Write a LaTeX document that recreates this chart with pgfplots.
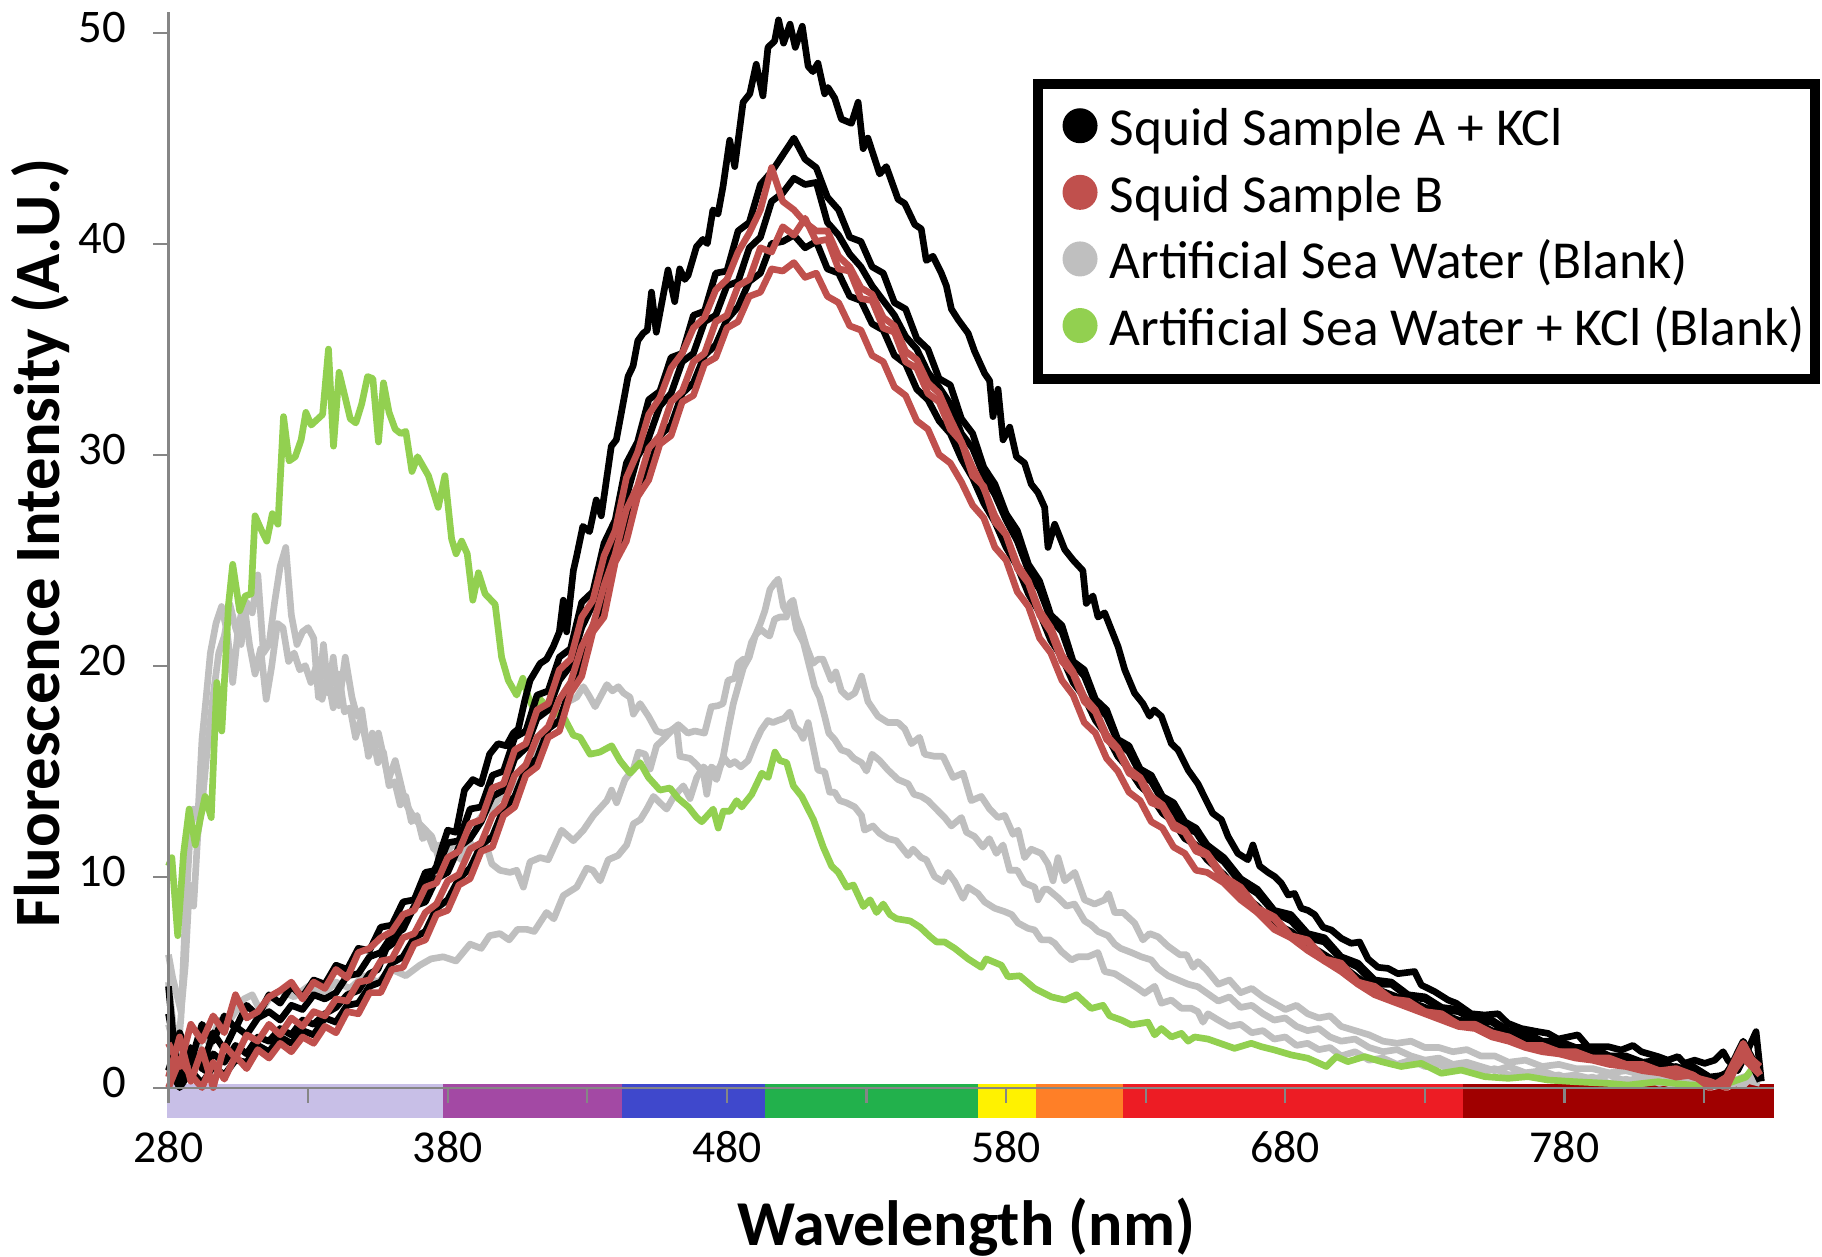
\documentclass[border=0pt]{standalone}
\usepackage{fontspec}
\setmainfont{Carlito}
\usepackage{pgfplots}
\usepackage{pgfplotstable}
\pgfplotsset{compat=1.18}

\definecolor{sqred}{RGB}{192,80,77}
\definecolor{swgray}{RGB}{191,191,191}
\definecolor{swgreen}{RGB}{146,208,80}
\definecolor{axisgray}{RGB}{134,134,134}
% spectrum strip under the x axis
\definecolor{cLav}{RGB}{200,191,231}
\definecolor{cPur}{RGB}{163,73,164}
\definecolor{cBlu}{RGB}{63,72,204}
\definecolor{cGrn}{RGB}{34,177,76}
\definecolor{cYel}{RGB}{255,242,0}
\definecolor{cOra}{RGB}{255,127,39}
\definecolor{cRed}{RGB}{237,28,36}
\definecolor{cDrd}{RGB}{160,0,0}

% squid samples (other runs)
\pgfplotstableread{
nm K2 K3 K4 R1 R2 R3
280 0.8 3.5 1.0 2.1 0.5 0.0
284 2.6 0.6 0.0 1.0 2.4 1.3
288 1.2 1.9 0.8 3.0 0.3 0.6
292 3.0 0.9 0.2 2.2 1.8 0.0
296 2.2 2.6 1.0 3.4 0.0 1.2
300 3.4 1.8 0.6 2.6 2.0 0.4
304 2.8 2.9 1.3 4.4 1.4 1.5
308 3.9 2.5 1.2 3.3 2.5 0.9
312 3.4 3.3 2.0 3.6 2.2 1.8
316 4.4 3.6 1.7 4.3 3.0 1.4
320 4.0 3.2 2.4 4.6 2.5 2.1
324 4.8 3.9 2.1 5.0 3.3 1.7
328 4.3 3.7 2.7 4.2 2.9 2.4
332 5.1 4.4 2.5 5.0 3.6 2.1
336 4.9 4.2 3.3 4.7 3.4 2.9
340 5.8 4.5 3.1 5.6 4.2 2.6
344 5.6 5.3 3.9 5.2 4.1 3.6
348 6.6 5.4 4.0 6.4 5.0 3.5
352 6.5 6.2 4.8 6.6 5.1 4.5
356 7.6 6.4 5.0 7.1 6.0 4.5
360 7.7 7.2 5.9 7.4 6.1 5.6
364 8.8 7.5 6.2 8.2 7.1 5.7
368 8.9 8.6 7.1 8.4 7.3 6.8
372 10.2 8.8 7.4 9.5 8.3 7.0
376 10.3 9.9 8.5 9.7 8.7 8.2
380 11.6 10.2 8.9 10.9 9.8 8.4
384 11.7 11.4 9.9 11.2 10.1 9.6
388 13.2 11.8 10.4 12.5 11.3 9.9
392 13.3 12.6 11.5 12.7 11.6 11.2
396 14.8 13.8 11.9 14.2 12.9 11.4
400 15.0 14.1 13.2 14.4 13.4 12.9
404 16.6 15.6 13.8 16.0 14.8 13.3
408 16.9 16.1 15.1 16.3 15.3 14.8
412 18.6 17.5 15.6 17.9 16.6 15.2
416 18.8 17.9 17.0 18.2 17.1 16.6
420 20.4 19.3 17.4 19.8 18.4 16.9
424 20.8 20.0 19.0 20.3 19.2 18.7
428 23.0 21.8 20.0 22.3 20.9 19.5
432 23.5 22.9 21.9 23.1 21.9 21.6
436 25.8 24.4 22.8 25.2 23.8 22.3
440 26.9 26.4 25.2 26.4 25.3 24.9
444 29.6 28.0 26.4 28.9 27.4 25.9
448 30.6 29.9 28.4 30.1 28.5 28.0
452 32.6 30.8 29.3 31.9 30.3 28.8
456 33.0 32.3 30.9 32.7 30.9 30.5
460 34.6 32.9 31.4 34.1 32.5 30.9
464 34.8 34.4 32.9 34.8 33.0 32.5
468 36.6 34.8 33.4 36.0 34.4 32.8
472 36.8 36.3 34.7 36.5 34.8 34.3
476 38.6 36.6 35.2 37.8 36.3 34.6
480 38.7 38.0 36.4 38.3 36.6 36.0
484 40.6 38.2 37.0 39.6 38.0 36.3
488 41.0 39.8 38.2 40.5 38.3 37.5
492 42.8 40.3 38.6 41.6 39.8 37.7
496 43.4 42.0 40.0 43.6 39.6 38.8
500 44.2 42.4 40.1 42.0 40.8 38.7
504 45.0 43.1 40.4 41.6 40.4 39.1
508 44.0 42.8 39.8 41.0 41.2 38.4
512 43.6 42.9 40.1 40.6 40.1 38.6
516 42.2 41.0 38.8 40.6 40.2 37.5
520 41.6 40.4 38.6 39.4 38.8 37.2
524 40.3 39.5 37.5 38.9 38.7 36.1
528 40.1 38.9 37.3 37.9 37.4 35.9
532 38.9 38.0 36.2 37.6 37.3 34.7
536 38.6 37.3 35.9 36.5 36.0 34.4
540 37.2 36.6 34.7 36.1 35.8 33.2
544 36.9 35.6 34.3 34.9 34.4 32.8
548 35.5 35.0 33.1 34.5 34.1 31.6
552 35.0 33.9 32.6 33.4 32.9 31.2
556 33.6 33.2 31.6 32.9 32.5 30.0
560 33.3 32.4 31.0 31.7 31.2 29.6
564 31.7 31.0 29.8 30.6 30.6 28.7
568 31.0 30.3 28.9 29.4 29.0 27.6
572 29.4 29.0 27.7 28.4 28.5 27.0
576 28.6 28.1 26.8 27.1 26.8 25.6
580 27.2 26.9 25.6 26.2 26.2 25.0
584 26.4 25.9 24.7 24.8 24.6 23.5
588 24.8 24.5 23.4 24.0 23.9 22.8
592 24.0 23.6 22.5 22.6 22.4 21.3
596 22.4 22.2 21.2 21.8 21.6 20.6
600 21.9 21.6 20.4 20.5 20.2 19.3
604 20.2 20.1 19.2 19.7 19.6 18.6
608 19.8 19.5 18.5 18.5 18.3 17.3
612 18.4 18.2 17.4 17.9 17.8 16.8
616 17.9 17.6 16.7 16.7 16.5 15.6
620 16.5 16.4 15.7 16.1 16.0 15.0
624 16.2 15.9 15.1 15.1 14.9 14.0
628 15.1 14.9 14.3 14.7 14.6 13.6
632 14.8 14.5 13.8 13.8 13.5 12.6
636 13.8 13.6 13.0 13.4 13.3 12.3
640 13.5 13.1 12.6 12.5 12.3 11.4
644 12.6 12.3 11.8 12.2 12.1 11.1
648 12.3 12.1 11.5 11.4 11.2 10.3
652 11.5 11.3 10.8 11.1 11.0 10.2
658 10.9 10.7 10.1 10.0 9.8 9.7
664 9.9 9.7 9.2 9.5 9.3 8.9
670 9.4 9.2 8.6 8.5 8.3 8.3
676 8.4 8.3 7.8 8.1 8.0 7.5
682 8.2 7.9 7.4 7.2 7.1 7.1
688 7.3 7.1 6.8 7.0 6.9 6.5
694 7.1 6.9 6.3 6.1 6.0 6.0
700 6.2 6.1 5.8 5.9 5.8 5.5
706 5.9 5.7 5.2 5.0 5.0 4.9
712 5.1 4.9 4.7 4.8 4.7 4.4
718 5.0 4.9 4.4 4.2 4.2 4.1
724 4.4 4.3 4.1 4.1 4.0 3.8
730 4.3 4.2 3.8 3.6 3.6 3.5
736 3.8 3.7 3.5 3.5 3.4 3.2
742 3.7 3.6 3.2 3.0 3.0 2.9
748 3.3 3.2 3.1 3.0 2.9 2.8
754 3.2 3.1 2.7 2.6 2.5 2.4
760 2.7 2.6 2.5 2.4 2.4 2.2
766 2.6 2.5 2.2 2.0 2.0 1.9
772 2.2 2.1 2.0 2.0 1.9 1.7
778 2.2 2.1 1.9 1.7 1.7 1.6
784 1.9 1.8 1.7 1.7 1.6 1.4
790 1.9 1.8 1.5 1.4 1.4 1.3
796 1.5 1.5 1.4 1.4 1.3 1.1
802 1.5 1.4 1.2 1.1 1.1 1.0
808 1.2 1.1 1.2 1.1 1.0 0.8
814 1.3 1.2 0.9 0.8 0.8 0.7
820 0.9 0.9 1.0 0.9 0.8 0.5
826 1.0 0.9 0.7 0.6 0.5 0.6
832 0.5 0.3 0.2 0.0 0.3 0.1
838 0.6 0.7 0.4 0.5 0.0 0.3
844 2.2 1.8 2.0 2.1 1.7 1.4
850 0.7 0.5 0.3 0.6 1.0 0.6
}\bundle

\begin{document}
\begin{tikzpicture}
\begin{axis}[
    name=ax,
    scale only axis,
    width=16.054cm, height=10.761cm,
    xmin=280, xmax=855, ymin=0, ymax=51,
    clip=false,
    axis on top,
    axis lines*=left,
    axis line style={draw=axisgray, line width=0.6pt},
    tick style={draw=axisgray, line width=0.6pt},
    tick align=outside,
    major tick length=0.15cm,
    xtick={280,330,...,830},
    xticklabels={280,,380,,480,,580,,680,,780,},
    ytick={0,10,...,50},
    /pgf/number format/assume math mode=true,
    xticklabel style={font=\fontsize{13}{15}\selectfont, yshift=-0.16cm},
    yticklabel style={font=\fontsize{13.3}{15}\selectfont, xshift=-0.15cm, yshift=0.05cm},
    xlabel={Wavelength (nm)},
    ylabel={Fluorescence Intensity (A.U.)},
    xlabel style={font=\bfseries\fontsize{18.2}{21}\selectfont,
        at={(axis description cs:0.497,-0.14627)}, anchor=base},
    ylabel style={font=\bfseries\fontsize{18.4}{21}\selectfont,
        at={(axis description cs:-0.0679,0.506)}, anchor=base},
    no markers,
    every axis plot/.append style={line width=1.9pt, line join=round, forget plot},
    legend cell align=left,
    legend image code/.code={
        \path[draw=none, fill=none] (0,0) rectangle (0.5cm,0.01cm);
        \fill[draw=none] (0.324cm,0.06cm) circle[radius=0.175cm];
    },
    legend style={
        at={(axis cs:589.5,47.79)}, anchor=north west,
        draw=black, line width=2.85pt, fill=white,
        inner xsep=0.1cm, inner ysep=0.19cm,
        row sep=0.096cm,
        font=\fontsize{15.2}{18}\selectfont,
        nodes={inner sep=0pt, text height=0.425cm, text depth=0.145cm},
        /tikz/every odd column/.append style={column sep=0.12cm},
    },
]

% spectrum strip
\fill[cLav] (axis cs:279.5,0.15) rectangle (axis cs:378.3,-1.45);
\fill[cPur] (axis cs:378.3,0.15) rectangle (axis cs:442.3,-1.45);
\fill[cBlu] (axis cs:442.3,0.15) rectangle (axis cs:493.7,-1.45);
\fill[cGrn] (axis cs:493.7,0.15) rectangle (axis cs:569.8,-1.45);
\fill[cYel] (axis cs:569.8,0.15) rectangle (axis cs:590.7,-1.45);
\fill[cOra] (axis cs:590.7,0.15) rectangle (axis cs:622.0,-1.45);
\fill[cRed] (axis cs:622.0,0.15) rectangle (axis cs:743.8,-1.45);
\fill[cDrd] (axis cs:743.8,0.15) rectangle (axis cs:854.9,-1.45);

% artificial sea water blanks
\addplot[color=swgray] coordinates {
(280,6.3)(281.5,5.2)(283,4.4)(284.5,3.6)(286,5.8)(287.5,9.6)(289,8.6)(290.5,12.0)(292,13.4)(294,16.2)
(296,18.6)(298,20.6)(300,21.4)(302,22.9)(304,21.8)(306,21.0)(308,23.0)(310,22.5)(312,24.3)(314,20.6)
(316,21.0)(318,23.0)(320,24.7)(322,25.6)(324,22.4)(326,21.0)(328,21.6)(330,21.8)(332,21.3)(333.7,18.5)
(335.5,21.0)(337.3,18.7)(339,20.4)(341,18.1)(343.3,20.4)(345.7,18.5)(347.5,17.6)(349.2,17.9)(351.6,15.7)
(355.2,16.8)(358.8,14.6)(361.2,15.5)(364.8,13.5)(368.3,12.7)(370.7,12.4)(374.3,11.9)(376.7,10.9)(379,10.6)
(382,11.1)(385,10.8)(388,11.6)(391,11.2)(394,11.4)(395.8,10.6)(398.7,10.3)(402.3,10.2)(404.7,10.3)
(407.1,9.5)(409.5,10.7)(413.1,10.9)(416,10.8)(420.8,12.2)(425,11.7)(428.6,12.2)(432.2,12.9)(437,13.6)
(438.7,14.1)(440.5,13.5)(443.5,14.6)(446.5,15.1)(448.3,15.9)(450.7,15.8)(452.5,15.1)(454.8,16.2)
(457.2,16.5)(460.8,17.0)(462.6,17.2)(466,16.8)(468.5,16.9)(472,16.8)(474.4,18.05)(476.8,18.1)(478.6,18.2)
(480.4,19.3)(482.8,19.4)(484,20.1)(485.8,20.3)(487,20.2)(488.8,21.1)(490.5,21.5)(492.3,21.7)(494.1,21.5)
(495.3,21.4)(497.1,22.2)(498.9,22.3)(501.3,22.3)(502.5,22.95)(503.7,23.1)(504.9,22.3)(506.7,21.7)
(508.5,20.9)(510.8,20.1)(512.6,20.3)(514.4,20.3)(516.2,19.7)(517.4,19.3)(519,19.7)(521,18.8)(523.4,18.5)
(525.8,18.7)(528.2,19.5)(530.5,18.3)(534.1,17.6)(537.7,17.3)(541.3,17.3)(543.7,17.0)(546.1,16.3)(549,16.6)
(550.8,15.8)(554.4,15.7)(557.4,15.7)(561,14.7)(564.6,14.9)(567.5,13.6)(571.1,13.8)(574.1,13.2)(577.1,12.8)
(579.5,12.9)(582.5,12.0)(584.3,12.2)(586.6,10.9)(589,11.3)(592.6,11.1)(595,10.6)(596.8,9.8)(598.6,10.9)
(601,9.8)(604.6,10.2)(608.1,8.9)(611.7,8.7)(615.3,8.9)(616.7,9.2)(618.9,8.3)(621.9,8.3)(626,7.8)(629,7.0)
(631.4,7.3)(634.4,7.15)(638,6.7)(642.2,6.3)(644.6,6.3)(647,5.7)(648.7,5.97)(651.7,5.6)(656,4.9)(660,5.1)
(664,4.5)(668,4.7)(672,4.3)(676,4.0)(680,3.7)(684,3.9)(688,3.5)(692,3.3)(696,3.4)(700,2.9)(705,2.7)
(710,2.5)(715,2.2)(720,2.1)(725,2.2)(730,1.9)(735,1.9)(740,1.7)(745,1.8)(750,1.5)(755,1.5)(760,1.2)
(766,1.3)(772,1.0)(778,1.1)(784,0.9)(790,0.9)(796,0.7)(802,0.8)(808,0.6)(814,0.6)(820,0.5)(826,0.5)
(832,0.2)(838,0.4)(844,0.1)(850,0.9)
};
\addplot[color=swgray] coordinates {
(280,5.0)(281.5,3.2)(283,1.0)(284.5,3.4)(286,8.0)(287.5,11.5)(289,13.2)(290.5,12.8)(292,16.5)(293.5,18.5)
(295,20.6)(297,22.0)(299,22.8)(301,21.6)(303,19.2)(305,21.8)(307,23.0)(309,21.0)(311,19.6)(313,20.8)
(315,18.4)(317,20.0)(319,22.0)(321,21.8)(323,20.2)(325,20.6)(327,19.8)(329,20.0)(331,19.2)(333,20.0)
(335,18.4)(337,19.5)(339,18.0)(341,19.6)(343,17.8)(345,18.0)(347,16.6)(349,17.5)(351,16.2)(353,16.8)
(355,15.4)(357,15.9)(359,14.3)(361,14.5)(363,13.4)(365,13.8)(367,12.6)(369,12.9)(371,11.8)(373,12.0)
(375,11.3)(377,11.5)(379,11.0)(381,11.4)(384,11.7)(387,12.4)(390,12.5)(393,13.0)(396,13.3)(399,13.8)
(402,14.2)(405,14.3)(408,15.0)(411,15.8)(414,16.6)(417,17.2)(419,17.7)(421.4,17.9)(423.3,18.3)(426.2,18.5)
(428.6,19.0)(430.5,18.6)(432.8,18.05)(435,18.6)(437,19.1)(439,18.8)(441.1,19.0)(443,18.7)(445.3,18.5)
(446.5,17.7)(448.9,18.2)(451.9,17.6)(454.8,16.9)(457.2,16.8)(459.6,16.9)(462,17.1)(463.2,15.7)(466.8,15.6)
(469.2,15.3)(471.6,14.9)(472.8,13.9)(474.4,15.2)(476.5,15.0)(479.2,15.6)(481,15.3)(482.8,15.45)(485,15.2)
(487.6,15.5)(490,16.3)(492.3,16.95)(494.7,17.4)(496.5,17.3)(498.3,17.4)(500.5,17.5)(502.5,17.8)(504.3,17.1)
(506,16.9)(507.3,16.55)(509.1,17.3)(510.8,16.2)(512.6,15.05)(515,14.97)(516.8,14.0)(518.6,14.0)(520.4,13.6)
(522.8,13.5)(525.8,13.3)(528.2,12.9)(529.3,12.2)(532.3,12.4)(534.7,12.05)(537.7,11.8)(540.7,11.7)
(543.1,11.3)(544.9,11.0)(546.7,11.3)(549.6,10.9)(551.4,10.8)(554.4,10.0)(557.4,9.76)(559.2,10.2)
(561.6,9.76)(564.6,8.97)(566.4,9.5)(569.9,9.2)(572.3,8.8)(575.9,8.5)(579.5,8.34)(582,8.2)(584.3,7.8)
(587.8,7.55)(590.2,7.47)(592.6,7.0)(595.6,7.0)(597.4,6.84)(599.8,6.45)(603.4,6.05)(605.8,6.2)(609.3,6.2)
(612.9,6.4)(615.3,5.5)(618.9,5.4)(621.3,5.2)(623.7,5.0)(627.2,4.7)(629.6,4.47)(633.2,4.8)(635.6,4.0)
(639.2,4.15)(642.8,3.76)(646.3,3.76)(648.7,3.6)(650.5,3.1)(652.3,3.5)(656,3.2)(660,2.9)(664,3.0)(668,2.6)
(672,2.7)(676,2.3)(680,2.4)(684,2.0)(688,2.1)(692,1.8)(696,1.9)(700,1.5)(705,1.7)(710,1.3)(715,1.4)
(720,1.1)(725,1.3)(730,1.0)(735,1.1)(740,0.8)(745,1.0)(750,0.7)(755,0.9)(760,0.6)(766,0.7)(772,0.5)
(778,0.6)(784,0.3)(790,0.5)(796,0.2)(802,0.4)(808,0.2)(814,0.3)(820,0.1)(826,0.3)(832,0.0)(838,0.2)
(844,0.5)(850,0.7)
};
\addplot[color=swgray] coordinates {
(280,3.0)(283,1.5)(286,2.2)(289,1.0)(292,2.6)(295,2.0)(298,3.2)(301,3.0)(304,3.6)(307,4.2)(310,4.4)
(313,3.6)(316,4.2)(320,4.6)(325,4.3)(330,4.8)(335,4.4)(340,5.0)(345,4.7)(350,5.3)(355,5.0)(360,5.6)
(365,5.3)(370,5.8)(374,6.1)(378.4,6.2)(383,6.0)(388,6.8)(392,6.6)(395,7.2)(398.7,7.3)(402,7.0)(405,7.5)
(408.3,7.5)(411,7.4)(415.4,8.3)(418,8.0)(421.4,9.1)(426.2,9.5)(429.8,10.4)(432,10.3)(434.6,9.8)
(437.5,10.8)(441,11.0)(444.1,11.5)(446.5,12.5)(449,12.7)(451.3,13.2)(453.7,13.8)(456,13.5)(458.4,13.2)
(461,13.8)(464.4,14.3)(466.8,13.7)(469.2,14.7)(471.6,15.2)(474,14.9)(476.3,14.6)(478.7,15.7)(480.5,17.0)
(482.3,18.2)(484,19.0)(485.9,19.9)(488,20.4)(490.1,21.4)(492,22.0)(493.6,22.6)(495.4,23.6)(497,23.9)
(498.4,24.1)(500.2,22.8)(501.5,22.5)(503,23.0)(505,21.7)(507.4,21.1)(509.5,20.0)(511.4,19.0)(513.2,18.5)
(515,17.6)(516.5,16.8)(518.6,16.5)(521,16.0)(523.4,15.9)(525.5,15.6)(528.2,15.4)(530,15.0)(532,15.8)
(534.7,15.5)(537.7,15.05)(541.3,14.6)(544.9,14.4)(547,13.9)(549.6,13.8)(552,13.6)(555,13.2)(558,12.8)
(560.4,12.4)(564,12.8)(565.8,12.1)(568.7,11.9)(571.7,11.4)(574,11.8)(576.5,11.1)(578.9,11.5)(581.3,10.3)
(584,10.3)(586.6,9.7)(590.2,9.5)(591.4,8.9)(593.5,9.4)(595,9.4)(598.6,9.0)(601.6,8.6)(604.5,8.7)
(608.1,7.9)(610.5,7.7)(612.9,7.4)(616.5,7.2)(618.9,6.8)(621,6.6)(624.9,6.4)(628.4,6.2)(632,6.05)
(634.4,5.65)(638,5.3)(641.6,5.1)(645.2,4.9)(648.7,4.78)(651.7,4.5)(656,4.1)(660,4.3)(664,3.8)(668,3.9)
(672,3.5)(676,3.2)(680,3.3)(684,2.9)(688,2.7)(692,2.8)(696,2.4)(700,2.2)(705,2.3)(710,1.9)(715,1.7)
(720,1.8)(725,1.5)(730,1.3)(735,1.4)(740,1.1)(745,1.2)(750,1.0)(755,0.8)(760,1.0)(766,0.7)(772,0.8)
(778,0.5)(784,0.6)(790,0.4)(796,0.6)(802,0.3)(808,0.5)(814,0.2)(820,0.4)(826,0.1)(832,0.3)(838,0.0)
(844,0.4)(850,0.2)
};

% artificial sea water + KCl
\addplot[color=swgreen] coordinates {
(280,10.5)(281.2,10.9)(283.3,7.2)(285.4,11.1)(287.4,13.2)(289.6,11.5)(291.5,12.8)(293.1,13.8)(295.3,12.8)
(297.3,19.2)(299.1,16.9)(301.5,22.9)(303,24.8)(305.5,22.6)(307.5,23.3)(309.6,23.4)(311,27.1)(313,26.5)
(315.2,25.9)(317.2,27.2)(319.2,26.7)(321.2,31.8)(323.2,29.7)(325.4,29.9)(327.5,30.7)(329.2,32.0)
(331.1,31.4)(335.2,31.9)(337.3,35.0)(339.1,30.4)(341.1,33.9)(343.3,32.7)(345.1,31.7)(347.1,31.5)
(349.2,32.4)(351.3,33.7)(353.2,33.6)(355.2,30.6)(357,33.4)(359,32.0)(361.2,31.2)(363.2,31.0)(365,31.1)
(367.2,29.2)(369.2,29.9)(373.1,29.0)(376.6,27.5)(379,29.0)(381.4,26.0)(383,25.3)(385,25.9)(387,25.3)
(389,23.1)(391,24.4)(393.4,23.4)(397,22.9)(399.3,20.4)(401.7,19.3)(404.7,18.6)(406.9,19.4)(408.9,18.5)
(410.9,17.9)(413.1,18.4)(416.6,17.9)(421.4,17.6)(425,16.7)(427.4,16.6)(431,15.8)(434.5,15.9)(438.7,16.2)
(441.7,15.5)(445.3,14.9)(448.9,15.4)(451.9,14.7)(456,14.1)(459.6,14.2)(462.6,13.7)(466.2,13.3)(469.2,12.8)
(471,12.6)(475.1,13.2)(476.9,12.3)(478.7,13.1)(481.1,13.1)(483.5,13.6)(485.3,13.3)(488.9,13.9)(492.5,14.9)
(494.8,14.7)(497.2,15.9)(499,15.5)(501.4,15.4)(503.8,14.3)(506.8,13.8)(511,12.7)(514.5,11.4)(517.5,10.5)
(519.9,10.2)(522.9,9.5)(525.3,9.6)(528.9,8.58)(531.3,8.9)(533.6,8.3)(536,8.7)(538.4,8.2)(540.8,8.0)
(545.6,7.9)(549.2,7.6)(552.7,7.16)(555.1,6.9)(558,6.9)(561.6,6.6)(566.4,6.1)(571.1,5.7)(572.9,6.1)
(578.3,5.8)(580.7,5.25)(584.9,5.3)(590.2,4.7)(596.2,4.3)(601,4.15)(605.2,4.4)(610.5,3.75)(614.7,3.9)
(617.1,3.4)(621.3,3.2)(624.9,2.97)(630.8,3.1)(633.2,2.5)(635.6,2.8)(639.2,2.4)(642.8,2.57)(645.2,2.2)
(647.5,2.4)(652.3,2.3)(661.8,1.86)(667.8,2.1)(671.4,1.94)(676.2,1.78)(682.1,1.55)(688.1,1.39)(694.7,1.0)
(698.3,1.47)(702.4,1.23)(708.4,1.47)(714.4,1.23)(721.5,1.0)(728.7,1.15)(735.9,0.68)(743,0.83)(751.4,0.52)
(759.8,0.44)(766.9,0.52)(774.1,0.36)(783.6,0.28)(795.6,0.2)(802.7,0.12)(813.5,0.28)(825.4,0.12)(838.5,0.2)
(845,0.5)(849.5,1.3)
};

% squid sample A + KCl
\addplot[color=black] coordinates {
(280,4.8)(282,2.0)(284,0.2)(286,1.0)(288,0.4)(290,1.5)(293,0.8)(296,1.6)(300,1.2)(304,2.0)(308,1.6)
(312,2.4)(316,2.2)(320,2.8)(324,2.5)(328,3.2)(332,3.0)(336,3.5)(340,3.8)(344,4.4)(348,4.6)(352,5.4)
(355,5.6)(358,6.6)(361,6.9)(364,7.8)(367,8.3)(370,9.0)(373,9.8)(376,10.5)(378,11.4)(380,12.2)(383,12.1)
(386,14.1)(389,14.6)(392,14.4)(395,15.8)(398,16.3)(401,16.2)(403.5,16.8)(405.3,17.0)(407.7,18.4)
(409.5,19.3)(413.1,20.1)(415.4,20.3)(417.8,20.9)(420,21.6)(421.4,23.1)(422.6,21.6)(425,24.5)(426.2,25.2)
(428.4,26.6)(430.8,26.35)(433.2,27.85)(435,27.1)(438.6,30.4)(440.4,30.7)(444.6,33.7)(446.4,34.2)
(448.1,35.4)(450,35.75)(451.5,35.9)(453,37.7)(454.7,35.8)(458.9,38.75)(461.3,37.25)(463.1,38.8)
(464.9,38.3)(466.1,38.5)(469.1,39.85)(471.4,40.2)(473,40.0)(475,41.6)(476.8,41.4)(478.6,42.7)(481,44.9)
(482.8,43.65)(485.8,46.7)(488.2,47.1)(490.5,48.5)(492.9,47.0)(494.7,49.3)(497.1,49.6)(498.5,50.6)
(500.3,49.5)(502.6,50.4)(504.5,49.3)(507,50.3)(509.1,48.4)(510.8,48.15)(512.6,48.55)(515,47.1)(516.2,47.4)
(518.6,46.9)(521,45.9)(524.6,45.7)(527,46.7)(528.8,44.5)(530.5,45.0)(534.7,43.3)(537.1,43.65)(541.3,42.1)
(543.7,41.9)(547.3,40.9)(549.6,40.7)(551.4,39.2)(553.8,39.4)(556.8,38.6)(558.6,38.0)(560.4,36.9)
(562.8,36.4)(566.4,35.75)(568.7,34.9)(572.3,33.85)(574.1,33.5)(575.3,31.8)(577.1,33.1)(578.9,30.7)
(581.3,31.3)(583.7,29.9)(586.6,29.6)(589,28.6)(591.4,28.2)(593.8,27.5)(595,25.6)(597.4,26.7)(601,25.5)
(604,25.0)(607.5,24.5)(608.7,22.95)(611.1,23.3)(612.9,22.3)(615.3,22.5)(620.1,20.9)(622.5,19.8)(626,18.7)
(629,18.2)(631.4,17.6)(633,17.9)(635.6,17.6)(639.2,16.3)(641.6,16.0)(645.2,15.05)(648.7,14.4)(651.7,13.6)
(654,13.0)(657.1,12.7)(659.5,11.9)(663,11.1)(666.6,10.8)(668.4,11.5)(670.8,10.5)(673.8,10.2)(676.2,10.0)
(678.6,9.68)(681,9.13)(683.3,9.2)(685.7,8.5)(688.1,8.4)(690.5,8.2)(693.5,7.6)(696.5,7.47)(700.1,7.07)
(703.6,6.84)(706.6,6.9)(709.6,6.1)(713.2,5.7)(716.8,5.65)(720.3,5.4)(726.3,5.5)(728.7,4.86)(733.5,4.55)
(738.3,4.15)(741.2,4.0)(746.6,3.5)(751.4,3.44)(756.2,3.5)(759.7,3.05)(764.5,2.8)(770.5,2.65)(774.1,2.57)
(777.7,2.3)(784.8,2.5)(788.4,1.94)(795.6,1.94)(800.3,1.78)(804.5,2.0)(807.5,1.7)(813.5,1.47)(817,1.3)
(820.6,1.47)(823,1.15)(826.6,1.3)(830.2,1.15)(833.8,1.3)(836.8,1.7)(838.5,1.3)(842,0.8)(845,1.6)
(848.6,2.65)(850.5,0.3)
};
\addplot[color=black] table[x=nm, y=K2] {\bundle};
\addplot[color=black] table[x=nm, y=K3] {\bundle};
\addplot[color=black] table[x=nm, y=K4] {\bundle};

% squid sample B
\addplot[color=sqred] table[x=nm, y=R1] {\bundle};
\addplot[color=sqred] table[x=nm, y=R2] {\bundle};
\addplot[color=sqred] table[x=nm, y=R3] {\bundle};

\addlegendimage{color=black}
\addlegendentry{Squid Sample A + KCl}
\addlegendimage{color=sqred}
\addlegendentry{Squid Sample B}
\addlegendimage{color=swgray}
\addlegendentry{Artificial Sea Water (Blank)}
\addlegendimage{color=swgreen}
\addlegendentry{Artificial Sea Water + KCl (Blank)}
\end{axis}
\pgfresetboundingbox
\path[use as bounding box] ([xshift=-1.685cm,yshift=-1.684cm]ax.south west)
    rectangle ([xshift=16.535cm,yshift=10.876cm]ax.south west);
\end{tikzpicture}
\end{document}
